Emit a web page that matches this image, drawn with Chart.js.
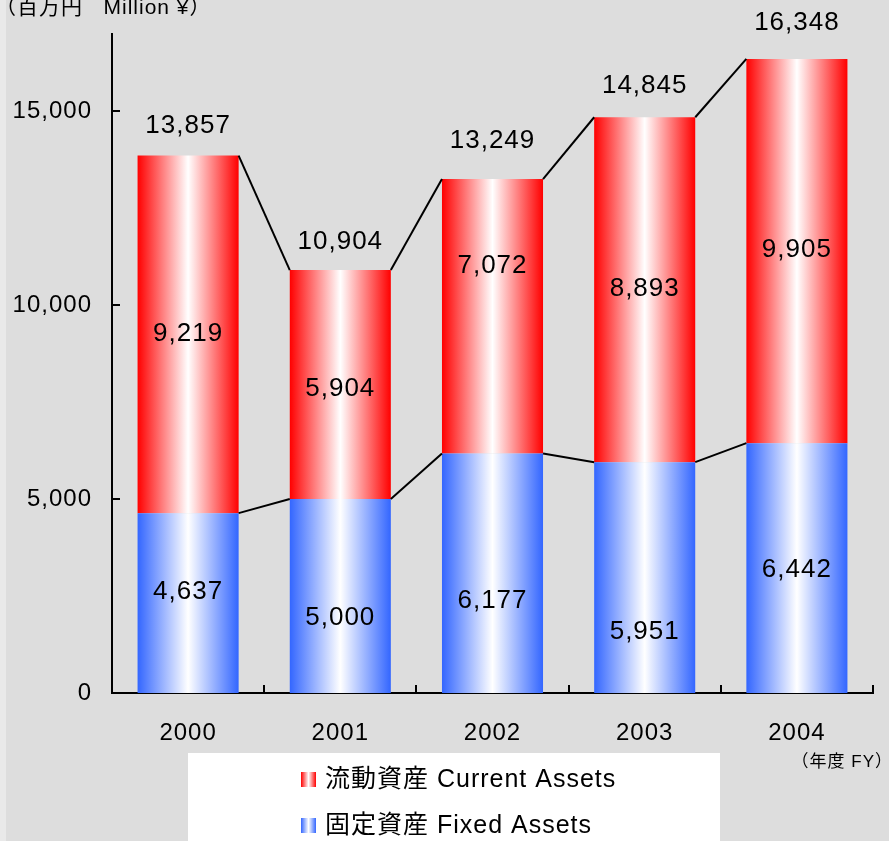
<!DOCTYPE html>
<html lang="ja">
<head>
  <meta charset="UTF-8" />
  <title>資産推移</title>
  <style>
    body {
      margin: 0;
      padding: 0;
      background: #dddddd;
    }
    canvas {
      display: block;
    }
  </style>
</head>
<body>
  <canvas id="assetChart" width="889" height="841"></canvas>

  <script src="https://cdn.jsdelivr.net/npm/chart.js"></script>
  <script>
    // data
    const years = ["2000", "2001", "2002", "2003", "2004"];
    const fixedAssets = [4637, 5000, 6177, 5951, 6442];
    const currentAssets = [9219, 5904, 7072, 8893, 9905];
    const totals = [13857, 10904, 13249, 14845, 16348];
    const yTicks = [0, 5000, 10000, 15000];
    const seriesNames = ["流動資産 Current Assets", "固定資産 Fixed Assets"];
    const unitLabel = "（百万円   Million ¥）";
    const yearLabel = "（年度 FY）";

    // label nudges (px) to follow the hand placed labels of the original
    const fixedNudge = [-11, 22, 28, 54, 2];
    const currentNudge = [-1, 4, -50, -1, -1];
    const totalRise = [30, 28, 38, 31, 36];

    const FONT = "'Liberation Sans', Arial, 'Noto Sans CJK JP', sans-serif";
    const RED = "#ff0000";
    const BLUE = "#3366ff";
    const fmt = v => v.toLocaleString("en-US");

    function edgeGradient(ctx, x0, x1, color) {
      const g = ctx.createLinearGradient(x0, 0, x1, 0);
      g.addColorStop(0, color);
      g.addColorStop(0.5, "#ffffff");
      g.addColorStop(1, color);
      return g;
    }

    const backdrop = {
      id: "backdrop",
      beforeDraw(chart) {
        const ctx = chart.ctx;
        // the original text is set a little wide
        ctx.letterSpacing = "1px";
        ctx.save();
        ctx.fillStyle = "#dddddd";
        ctx.fillRect(0, 0, chart.width, chart.height);
        ctx.fillStyle = "#e9e9e9";
        ctx.fillRect(0, 0, 6, chart.height);
        ctx.restore();
      },
    };

    // per bar horizontal gradient: colour at the edges, white in the middle
    const barShading = {
      id: "barShading",
      beforeDatasetsDraw(chart) {
        const ctx = chart.ctx;
        chart.data.datasets.forEach((ds, d) => {
          chart.getDatasetMeta(d).data.forEach(el => {
            const half = el.width / 2;
            el.options = Object.assign({}, el.options, {
              backgroundColor: edgeGradient(ctx, el.x - half, el.x + half, ds.edgeColor),
            });
          });
        });
      },
    };

    const decorations = {
      id: "decorations",
      afterDatasetsDraw(chart) {
        const ctx = chart.ctx;
        const xs = chart.scales.x;
        const ys = chart.scales.y;
        ctx.save();

        // series lines between the bars
        ctx.strokeStyle = "#000";
        ctx.lineWidth = 2;
        chart.data.datasets.forEach((ds, d) => {
          const bars = chart.getDatasetMeta(d).data;
          for (let i = 0; i < bars.length - 1; i++) {
            const a = bars[i], b = bars[i + 1];
            ctx.beginPath();
            ctx.moveTo(a.x + a.width / 2, a.y);
            ctx.lineTo(b.x - b.width / 2, b.y);
            ctx.stroke();
          }
        });

        // inward tick marks
        yTicks.forEach(v => {
          const py = Math.round(ys.getPixelForValue(v));
          ctx.beginPath();
          ctx.moveTo(xs.left, py);
          ctx.lineTo(xs.left + 8, py);
          ctx.stroke();
        });
        for (let i = 0; i <= years.length; i++) {
          const px = Math.round(xs.getPixelForValue(i - 0.5));
          ctx.beginPath();
          ctx.moveTo(px, ys.bottom);
          ctx.lineTo(px, ys.bottom - 8);
          ctx.stroke();
        }

        // value labels
        ctx.fillStyle = "#000";
        ctx.font = "26px " + FONT;
        ctx.textAlign = "center";
        ctx.textBaseline = "middle";
        const fixedBars = chart.getDatasetMeta(0).data;
        const currentBars = chart.getDatasetMeta(1).data;
        fixedBars.forEach((el, i) => {
          ctx.fillText(fmt(fixedAssets[i]), el.x, (el.y + el.base) / 2 + fixedNudge[i]);
        });
        currentBars.forEach((el, i) => {
          ctx.fillText(fmt(currentAssets[i]), el.x, (el.y + el.base) / 2 + currentNudge[i]);
          ctx.fillText(fmt(totals[i]), el.x, el.y - totalRise[i]);
        });
        ctx.restore();
      },
      afterDraw(chart) {
        const ctx = chart.ctx;
        ctx.save();
        ctx.fillStyle = "#000";

        ctx.font = "21px " + FONT;
        ctx.textAlign = "left";
        ctx.textBaseline = "alphabetic";
        ctx.fillText(unitLabel, -5, 14);

        ctx.font = "17px " + FONT;
        ctx.textAlign = "right";
        ctx.fillText(yearLabel, 893, 767);

        // legend box
        ctx.fillStyle = "#ffffff";
        ctx.fillRect(188, 753, 532, 88);
        const colors = [RED, BLUE];
        const rows = [780, 826];
        ctx.font = "25px " + FONT;
        ctx.textAlign = "left";
        ctx.textBaseline = "middle";
        seriesNames.forEach((name, i) => {
          ctx.fillStyle = edgeGradient(ctx, 301, 316, colors[i]);
          ctx.fillRect(301, rows[i] - 8, 15, 15);
          ctx.fillStyle = "#000";
          ctx.fillText(name, 325, rows[i]);
        });
        ctx.restore();
      },
    };

    new Chart(document.getElementById("assetChart"), {
      type: "bar",
      data: {
        labels: years,
        datasets: [
          {
            label: seriesNames[1],
            data: fixedAssets,
            backgroundColor: BLUE,
            edgeColor: BLUE,
            borderWidth: 0,
          },
          {
            label: seriesNames[0],
            data: currentAssets,
            backgroundColor: RED,
            edgeColor: RED,
            borderWidth: 0,
          },
        ],
      },
      options: {
        responsive: false,
        animation: false,
        devicePixelRatio: 1,
        layout: { padding: { top: 30, right: 16, left: 0, bottom: 0 } },
        plugins: {
          legend: { display: false },
          tooltip: { enabled: false },
        },
        datasets: {
          bar: { categoryPercentage: 1, barPercentage: 0.664 },
        },
        scales: {
          x: {
            stacked: true,
            offset: true,
            grid: { display: false, drawTicks: false },
            border: { display: true, color: "#000", width: 2 },
            ticks: {
              color: "#000",
              font: { family: FONT, size: 24 },
              padding: 26,
              maxRotation: 0,
            },
            afterFit: s => { s.height = 148; },
          },
          y: {
            stacked: true,
            min: 0,
            max: 16980,
            grid: { display: false, drawTicks: false },
            border: { display: true, color: "#000", width: 2 },
            ticks: {
              color: "#000",
              font: { family: FONT, size: 24 },
              padding: 20,
              callback: v => fmt(v),
            },
            afterBuildTicks: s => { s.ticks = yTicks.map(v => ({ value: v })); },
            afterFit: s => { s.width = 112; },
          },
        },
      },
      plugins: [backdrop, barShading, decorations],
    });
  </script>
</body>
</html>
